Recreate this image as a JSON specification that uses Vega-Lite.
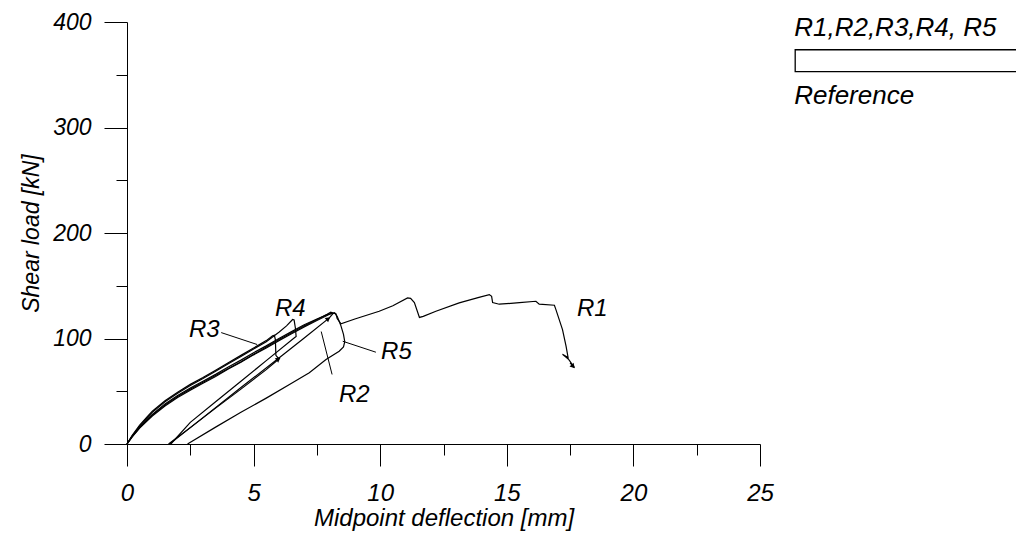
{
  "$schema": "https://vega.github.io/schema/vega-lite/v6.json",
  "autosize": {"type": "none"},
  "width": 633,
  "height": 422,
  "padding": {"left": 127, "top": 22, "right": 256, "bottom": 94},
  "background": "white",
  "config": {
    "view": {"stroke": null},
    "font": "Liberation Sans",
    "axis": {"grid": false}
  },
  "datasets": {
    "curves": [
      {"s": "R1", "i": 0, "x": 0, "y": 0}, {"s": "R1", "i": 1, "x": 0.2, "y": 7}, {"s": "R1", "i": 2, "x": 0.5, "y": 16}, {"s": "R1", "i": 3, "x": 0.8, "y": 23.5}, {"s": "R1", "i": 4, "x": 1, "y": 28}, {"s": "R1", "i": 5, "x": 1.5, "y": 38}, {"s": "R1", "i": 6, "x": 2, "y": 46}, {"s": "R1", "i": 7, "x": 2.5, "y": 53}, {"s": "R1", "i": 8, "x": 3, "y": 59.5}, {"s": "R1", "i": 9, "x": 3.5, "y": 66}, {"s": "R1", "i": 10, "x": 4, "y": 73}, {"s": "R1", "i": 11, "x": 4.5, "y": 79.5}, {"s": "R1", "i": 12, "x": 5, "y": 86.5}, {"s": "R1", "i": 13, "x": 5.5, "y": 93}, {"s": "R1", "i": 14, "x": 6, "y": 100}, {"s": "R1", "i": 15, "x": 6.5, "y": 106.5}, {"s": "R1", "i": 16, "x": 7, "y": 113}, {"s": "R1", "i": 17, "x": 7.5, "y": 118.5}, {"s": "R1", "i": 18, "x": 7.9, "y": 122.5}, {"s": "R1", "i": 19, "x": 8.1, "y": 124}, {"s": "R1", "i": 20, "x": 8.25, "y": 123.5}, {"s": "R1", "i": 21, "x": 8.3, "y": 119}, {"s": "R1", "i": 22, "x": 8.45, "y": 114}, {"s": "R1", "i": 23, "x": 9.0, "y": 118.5}, {"s": "R1", "i": 24, "x": 9.96, "y": 125.8}, {"s": "R1", "i": 25, "x": 10.5, "y": 131}, {"s": "R1", "i": 26, "x": 11.08, "y": 138.5}, {"s": "R1", "i": 27, "x": 11.2, "y": 138}, {"s": "R1", "i": 28, "x": 11.35, "y": 134}, {"s": "R1", "i": 29, "x": 11.55, "y": 120}, {"s": "R1", "i": 30, "x": 11.7, "y": 121}, {"s": "R1", "i": 31, "x": 12.2, "y": 125.8}, {"s": "R1", "i": 32, "x": 13.12, "y": 133.8}, {"s": "R1", "i": 33, "x": 13.9, "y": 139}, {"s": "R1", "i": 34, "x": 14.31, "y": 141.6}, {"s": "R1", "i": 35, "x": 14.4, "y": 140}, {"s": "R1", "i": 36, "x": 14.44, "y": 134}, {"s": "R1", "i": 37, "x": 14.7, "y": 132.5}, {"s": "R1", "i": 38, "x": 15.5, "y": 134}, {"s": "R1", "i": 39, "x": 16.15, "y": 135.3}, {"s": "R1", "i": 40, "x": 16.28, "y": 132.5}, {"s": "R1", "i": 41, "x": 16.88, "y": 131.5}, {"s": "R1", "i": 42, "x": 16.94, "y": 127.4}, {"s": "R1", "i": 43, "x": 17.2, "y": 108.5}, {"s": "R1", "i": 44, "x": 17.34, "y": 92.7}, {"s": "R1", "i": 45, "x": 17.42, "y": 82}, {"s": "R1", "i": 46, "x": 17.2, "y": 85}, {"s": "R1", "i": 47, "x": 17.45, "y": 80}, {"s": "R1", "i": 48, "x": 17.67, "y": 72.5}, {"s": "R1", "i": 49, "x": 17.5, "y": 77}, {"s": "R1", "i": 50, "x": 17.6, "y": 74},
      {"s": "R2", "i": 0, "x": 0, "y": 0}, {"s": "R2", "i": 1, "x": 0.2, "y": 7}, {"s": "R2", "i": 2, "x": 0.5, "y": 15.5}, {"s": "R2", "i": 3, "x": 0.8, "y": 23}, {"s": "R2", "i": 4, "x": 1, "y": 27.5}, {"s": "R2", "i": 5, "x": 1.5, "y": 37}, {"s": "R2", "i": 6, "x": 2, "y": 45}, {"s": "R2", "i": 7, "x": 2.5, "y": 52}, {"s": "R2", "i": 8, "x": 3, "y": 58.5}, {"s": "R2", "i": 9, "x": 3.5, "y": 65}, {"s": "R2", "i": 10, "x": 4, "y": 71.5}, {"s": "R2", "i": 11, "x": 4.5, "y": 78}, {"s": "R2", "i": 12, "x": 5, "y": 85}, {"s": "R2", "i": 13, "x": 5.5, "y": 92}, {"s": "R2", "i": 14, "x": 6, "y": 99}, {"s": "R2", "i": 15, "x": 6.5, "y": 105.5}, {"s": "R2", "i": 16, "x": 7, "y": 112}, {"s": "R2", "i": 17, "x": 7.5, "y": 118}, {"s": "R2", "i": 18, "x": 7.9, "y": 123}, {"s": "R2", "i": 19, "x": 8.05, "y": 125}, {"s": "R2", "i": 20, "x": 8.15, "y": 124}, {"s": "R2", "i": 21, "x": 7.99, "y": 119.5}, {"s": "R2", "i": 22, "x": 7, "y": 100.5}, {"s": "R2", "i": 23, "x": 6, "y": 81.5}, {"s": "R2", "i": 24, "x": 4.5, "y": 53.5}, {"s": "R2", "i": 25, "x": 3, "y": 25}, {"s": "R2", "i": 26, "x": 1.68, "y": 0},
      {"s": "R3", "i": 0, "x": 0, "y": 0}, {"s": "R3", "i": 1, "x": 0.2, "y": 8}, {"s": "R3", "i": 2, "x": 0.5, "y": 18}, {"s": "R3", "i": 3, "x": 0.8, "y": 26}, {"s": "R3", "i": 4, "x": 1, "y": 31}, {"s": "R3", "i": 5, "x": 1.5, "y": 41}, {"s": "R3", "i": 6, "x": 2, "y": 49}, {"s": "R3", "i": 7, "x": 2.5, "y": 56.5}, {"s": "R3", "i": 8, "x": 3, "y": 63}, {"s": "R3", "i": 9, "x": 3.5, "y": 70}, {"s": "R3", "i": 10, "x": 4, "y": 77}, {"s": "R3", "i": 11, "x": 4.5, "y": 84}, {"s": "R3", "i": 12, "x": 5, "y": 91}, {"s": "R3", "i": 13, "x": 5.5, "y": 98}, {"s": "R3", "i": 14, "x": 5.75, "y": 102.5}, {"s": "R3", "i": 15, "x": 5.82, "y": 103}, {"s": "R3", "i": 16, "x": 5.86, "y": 99}, {"s": "R3", "i": 17, "x": 5.88, "y": 84}, {"s": "R3", "i": 18, "x": 5.95, "y": 82}, {"s": "R3", "i": 19, "x": 6.02, "y": 81}, {"s": "R3", "i": 20, "x": 5.5, "y": 70.5}, {"s": "R3", "i": 21, "x": 4.5, "y": 52}, {"s": "R3", "i": 22, "x": 3.5, "y": 34}, {"s": "R3", "i": 23, "x": 2.5, "y": 15.5}, {"s": "R3", "i": 24, "x": 1.64, "y": 0},
      {"s": "R4", "i": 0, "x": 0, "y": 0}, {"s": "R4", "i": 1, "x": 0.2, "y": 7.5}, {"s": "R4", "i": 2, "x": 0.5, "y": 17}, {"s": "R4", "i": 3, "x": 0.8, "y": 25}, {"s": "R4", "i": 4, "x": 1, "y": 30}, {"s": "R4", "i": 5, "x": 1.5, "y": 40}, {"s": "R4", "i": 6, "x": 2, "y": 48}, {"s": "R4", "i": 7, "x": 2.5, "y": 55.5}, {"s": "R4", "i": 8, "x": 3, "y": 62}, {"s": "R4", "i": 9, "x": 3.5, "y": 69}, {"s": "R4", "i": 10, "x": 4, "y": 76}, {"s": "R4", "i": 11, "x": 4.5, "y": 83}, {"s": "R4", "i": 12, "x": 5, "y": 90}, {"s": "R4", "i": 13, "x": 5.5, "y": 97}, {"s": "R4", "i": 14, "x": 6, "y": 106}, {"s": "R4", "i": 15, "x": 6.3, "y": 112}, {"s": "R4", "i": 16, "x": 6.54, "y": 118}, {"s": "R4", "i": 17, "x": 6.6, "y": 117.5}, {"s": "R4", "i": 18, "x": 6.65, "y": 110}, {"s": "R4", "i": 19, "x": 6.68, "y": 102}, {"s": "R4", "i": 20, "x": 6.6, "y": 100.5}, {"s": "R4", "i": 21, "x": 5.5, "y": 79}, {"s": "R4", "i": 22, "x": 4.5, "y": 59.5}, {"s": "R4", "i": 23, "x": 3.5, "y": 40}, {"s": "R4", "i": 24, "x": 2.5, "y": 20.5}, {"s": "R4", "i": 25, "x": 1.73, "y": 0},
      {"s": "R5", "i": 0, "x": 0, "y": 0}, {"s": "R5", "i": 1, "x": 0.2, "y": 6.5}, {"s": "R5", "i": 2, "x": 0.5, "y": 15}, {"s": "R5", "i": 3, "x": 0.8, "y": 22}, {"s": "R5", "i": 4, "x": 1, "y": 26.5}, {"s": "R5", "i": 5, "x": 1.5, "y": 36}, {"s": "R5", "i": 6, "x": 2, "y": 44}, {"s": "R5", "i": 7, "x": 2.5, "y": 51}, {"s": "R5", "i": 8, "x": 3, "y": 57.5}, {"s": "R5", "i": 9, "x": 3.5, "y": 64}, {"s": "R5", "i": 10, "x": 4, "y": 71}, {"s": "R5", "i": 11, "x": 4.5, "y": 77.5}, {"s": "R5", "i": 12, "x": 5, "y": 84.5}, {"s": "R5", "i": 13, "x": 5.5, "y": 91}, {"s": "R5", "i": 14, "x": 6, "y": 98}, {"s": "R5", "i": 15, "x": 6.5, "y": 104.5}, {"s": "R5", "i": 16, "x": 7, "y": 111}, {"s": "R5", "i": 17, "x": 7.5, "y": 117}, {"s": "R5", "i": 18, "x": 8, "y": 123}, {"s": "R5", "i": 19, "x": 8.2, "y": 124.5}, {"s": "R5", "i": 20, "x": 8.3, "y": 121}, {"s": "R5", "i": 21, "x": 8.45, "y": 112}, {"s": "R5", "i": 22, "x": 8.55, "y": 104}, {"s": "R5", "i": 23, "x": 8.6, "y": 97}, {"s": "R5", "i": 24, "x": 8.55, "y": 92}, {"s": "R5", "i": 25, "x": 8.38, "y": 88}, {"s": "R5", "i": 26, "x": 7.86, "y": 80}, {"s": "R5", "i": 27, "x": 7.2, "y": 67.5}, {"s": "R5", "i": 28, "x": 6.5, "y": 57.5}, {"s": "R5", "i": 29, "x": 5.5, "y": 43.5}, {"s": "R5", "i": 30, "x": 4.5, "y": 30}, {"s": "R5", "i": 31, "x": 3.5, "y": 16}, {"s": "R5", "i": 32, "x": 2.39, "y": 0}
    ],
    "labels": [
      {"t": "R1", "x": 18.38, "y": 127.5},
      {"t": "R2", "x": 8.98, "y": 46.9},
      {"t": "R3", "x": 3.05, "y": 108.5},
      {"t": "R4", "x": 6.45, "y": 127.5},
      {"t": "R5", "x": 10.64, "y": 87.6}
    ],
    "leaders": [
      {"x": 3.72, "y": 105.6, "x2": 5.14, "y2": 94.3},
      {"x": 8.1, "y": 65.9, "x2": 7.67, "y2": 106.6},
      {"x": 9.83, "y": 87, "x2": 8.52, "y2": 97.4}
    ],
    "arrowsUp": [
      {"x": 5.98, "y": 80.5},
      {"x": 7.95, "y": 118.8}
    ],
    "arrowsDown": [
      {"x": 17.62, "y": 73.5}
    ],
    "legendbox": [
      {"x": 26.39, "y": 373.7, "x2": 40, "y2": 352.9}
    ],
    "legendtext": [
      {"t": "R1,R2,R3,R4, R5", "x": 26.35, "y": 394.6},
      {"t": "Reference", "x": 26.35, "y": 330}
    ]
  },
  "layer": [
    {
      "data": {"name": "curves"},
      "mark": {"type": "line", "color": "black", "strokeWidth": 1.2, "interpolate": "linear"},
      "encoding": {
        "x": {
          "field": "x", "type": "quantitative",
          "scale": {"domain": [0, 25], "nice": false, "zero": false},
          "axis": {
            "title": "Midpoint deflection [mm]",
            "values": [0, 2.5, 5, 7.5, 10, 12.5, 15, 17.5, 20, 22.5, 25],
            "labelExpr": "datum.value % 5 === 0 ? format(datum.value, 'd') : ''",
            "tickSize": {"condition": {"test": "datum.value % 5 === 0", "value": 22}, "value": 11},
            "domainColor": "black", "tickColor": "black",
            "labelColor": "black", "labelFont": "Liberation Sans", "labelFontStyle": "italic", "labelFontSize": 24,
            "labelPadding": 15, "labelFlush": false, "labelOverlap": false,
            "titleColor": "black", "titleFont": "Liberation Sans", "titleFontStyle": "italic", "titleFontWeight": "normal", "titleFontSize": 24,
            "titlePadding": 1
          }
        },
        "y": {
          "field": "y", "type": "quantitative",
          "scale": {"domain": [0, 400], "nice": false, "zero": false},
          "axis": {
            "title": "Shear load [kN]",
            "values": [0, 50, 100, 150, 200, 250, 300, 350, 400],
            "labelExpr": "datum.value % 100 === 0 ? format(datum.value, 'd') : ''",
            "tickSize": {"condition": {"test": "datum.value % 100 === 0", "value": 23}, "value": 11},
            "domainColor": "black", "tickColor": "black",
            "labelColor": "black", "labelFont": "Liberation Sans", "labelFontStyle": "italic", "labelFontSize": 23,
            "labelPadding": 13, "labelFlush": false, "labelOverlap": false,
            "titleColor": "black", "titleFont": "Liberation Sans", "titleFontStyle": "italic", "titleFontWeight": "normal", "titleFontSize": 23,
            "titlePadding": 9
          }
        },
        "detail": {"field": "s"},
        "order": {"field": "i", "type": "quantitative"}
      }
    },
    {
      "data": {"name": "leaders"},
      "mark": {"type": "rule", "color": "black", "strokeWidth": 1},
      "encoding": {
        "x": {"field": "x", "type": "quantitative"},
        "y": {"field": "y", "type": "quantitative"},
        "x2": {"field": "x2"},
        "y2": {"field": "y2"}
      }
    },
    {
      "data": {"name": "arrowsUp"},
      "mark": {"type": "point", "shape": "triangle-up", "filled": true, "color": "black", "opacity": 1, "size": 30, "angle": 52},
      "encoding": {
        "x": {"field": "x", "type": "quantitative"},
        "y": {"field": "y", "type": "quantitative"}
      }
    },
    {
      "data": {"name": "arrowsDown"},
      "mark": {"type": "point", "shape": "triangle-up", "filled": true, "color": "black", "opacity": 1, "size": 30, "angle": 138},
      "encoding": {
        "x": {"field": "x", "type": "quantitative"},
        "y": {"field": "y", "type": "quantitative"}
      }
    },
    {
      "data": {"name": "labels"},
      "mark": {"type": "text", "font": "Liberation Sans", "fontStyle": "italic", "fontSize": 24, "color": "black", "align": "center", "baseline": "middle"},
      "encoding": {
        "x": {"field": "x", "type": "quantitative"},
        "y": {"field": "y", "type": "quantitative"},
        "text": {"field": "t"}
      }
    },
    {
      "data": {"name": "legendbox"},
      "mark": {"type": "rect", "fill": "white", "stroke": "black", "strokeWidth": 1.3},
      "encoding": {
        "x": {"field": "x", "type": "quantitative"},
        "y": {"field": "y", "type": "quantitative"},
        "x2": {"field": "x2"},
        "y2": {"field": "y2"}
      }
    },
    {
      "data": {"name": "legendtext"},
      "mark": {"type": "text", "font": "Liberation Sans", "fontStyle": "italic", "fontSize": 26, "color": "black", "align": "left", "baseline": "middle"},
      "encoding": {
        "x": {"field": "x", "type": "quantitative"},
        "y": {"field": "y", "type": "quantitative"},
        "text": {"field": "t"}
      }
    }
  ]
}
